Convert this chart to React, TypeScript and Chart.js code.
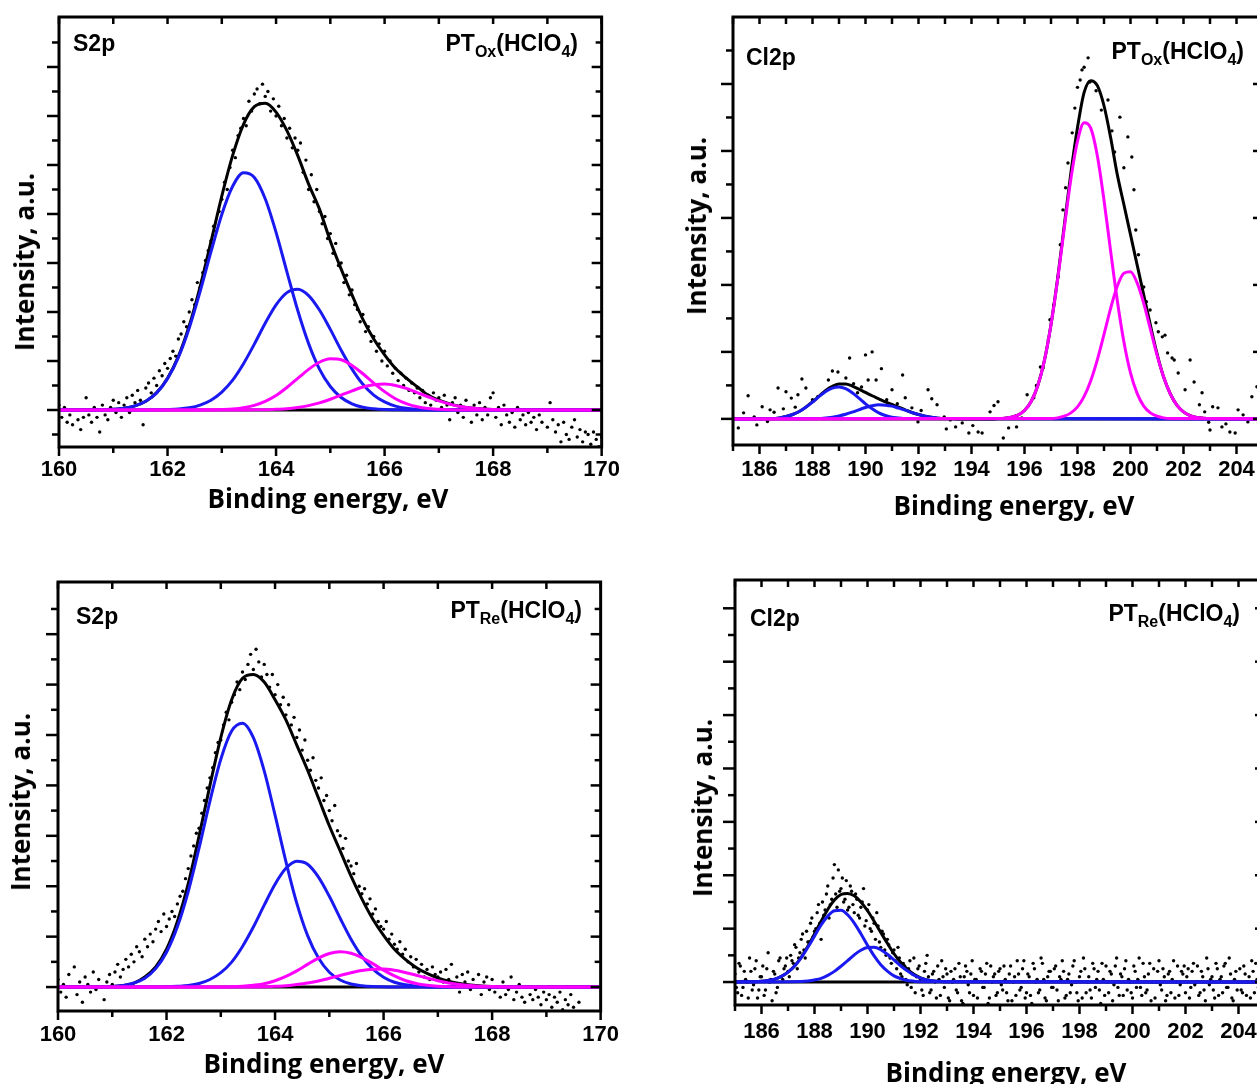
import React, { useEffect, useRef } from 'react';
import { Chart, registerables } from 'chart.js';

Chart.register(...registerables);

// ------------------------------------------------------------------ data
const S2P_RANGE = [160, 170];
const CL2P_RANGE = [185, 205];
const s2pTickLabels = [160, 162, 164, 166, 168, 170];
const clTickLabels = [186, 188, 190, 192, 194, 196, 198, 200, 202, 204];

const xTitle = 'Binding energy, eV';
const yTitle = 'Intensity, a.u.';
const coreLevels = ['S2p', 'Cl2p', 'S2p', 'Cl2p'];
const sampleSubs = ['Ox', 'Ox', 'Re', 'Re'];

// S2p, PT_Ox(HClO4) — measured points, 160.00 eV onward, 0.05 eV step
const s2pOxStart = 160;
const s2pOxStep = 0.05;
const s2pOxCounts = [
  0.2, -0.3, 0.1, -0.5, -0.2, -0.6, 0.0, -0.4, -0.8, -0.3, 0.5, -0.2, -0.5, 0.1, -0.3, -0.9, 0.2, -0.2, -0.4, 0.1,
  0.4, -0.1, 0.3, -0.3, 0.2, 0.5, -0.1, 0.6, 0.3, 0.8, 0.4, -0.6, 0.9, 1.1, 0.7, 1.3, 1.0, 1.6, 1.4, 1.9,
  1.7, 2.1, 2.4, 2.2, 2.9, 3.1, 3.6, 3.4, 4.0, 4.5, 4.3, 5.2, 5.0, 5.6, 6.1, 6.5, 6.9, 7.5, 7.3, 8.1,
  8.6, 9.3, 9.0, 9.9, 10.6, 10.3, 11.2, 11.5, 11.9, 11.6, 12.6, 12.2, 12.9, 13.1, 12.5, 13.3, 12.8, 13.0, 12.2, 12.7,
  12.0, 12.4, 11.6, 11.9, 11.1, 11.5, 10.7, 11.1, 10.6, 10.9, 9.7, 10.2, 9.0, 9.6, 8.5, 9.0, 8.1, 7.6, 7.9, 7.0,
  7.2, 6.4, 6.8, 5.9, 6.0, 5.2, 5.5, 4.7, 4.9, 4.3, 4.1, 3.6, 3.9, 3.2, 3.4, 2.8, 3.0, 2.4, 2.7, 2.0,
  2.4, 1.8, 2.0, 1.5, 1.7, 1.2, 1.5, 1.0, 1.3, 0.8, 1.1, 0.7, 0.9, 0.5, 0.8, 0.3, 0.6, 0.2, 0.7, 0.4,
  0.5, 0.1, 0.6, 0.2, -0.4, 0.3, 0.5, -0.1, 0.2, -0.3, 0.4, 0.0, -0.5, 0.2, -0.2, 0.3, -0.4, 0.1, -0.2, 0.5,
  0.7, -0.3, 0.1, -0.6, 0.2, -0.2, -0.5, -0.1, -0.7, 0.1, -0.4, -0.2, -0.6, -0.1, -0.5, -0.3, -0.8, -0.2, -0.5, 0.0,
  -0.7, 0.3, -0.4, -0.9, -0.6, -1.3, -0.5, -1.0, -1.2, -0.7, -0.4, -1.1, -0.8, -1.3, -0.9, -1.0, -1.4, -0.9, -1.2, -1.5,
  -1.1,
];

// S2p fits sampled from 160.0 eV in 0.2 eV steps
const s2pFitStart = 160;
const s2pFitStep = 0.2;
const s2pOxEnvelope = [
  0, 0, 0, 0, 0.01, 0.03, 0.07, 0.17, 0.36, 0.71,
  1.30, 2.19, 3.44, 5.03, 6.86, 8.73, 10.39, 11.66, 12.38, 12.52,
  12.16, 11.40, 10.38, 9.22, 8.2, 6.9, 5.75, 4.7, 3.7, 2.9,
  2.25, 1.7, 1.3, 0.95, 0.61, 0.40, 0.25, 0.14, 0.08, 0.04,
  0.02, 0.01, 0, 0, 0, 0, 0, 0, 0, 0, 0,
];
const s2pOxBlue1 = [
  0, 0, 0, 0, 0.01, 0.03, 0.07, 0.17, 0.36, 0.70,
  1.28, 2.15, 3.35, 4.83, 6.45, 7.98, 9.13, 9.68, 9.49, 8.62,
  7.25, 5.64, 4.06, 2.71, 1.67, 0.96, 0.51, 0.25, 0.11, 0.05,
  0.02, 0.01, 0, 0, 0, 0, 0, 0, 0, 0,
  0, 0, 0, 0, 0, 0, 0, 0, 0, 0, 0,
];
const s2pOxBlue2 = [
  0, 0, 0, 0, 0, 0, 0, 0, 0, 0.01,
  0.02, 0.04, 0.09, 0.20, 0.40, 0.73, 1.22, 1.89, 2.69, 3.54,
  4.29, 4.79, 4.93, 4.67, 4.08, 3.29, 2.44, 1.67, 1.05, 0.61,
  0.33, 0.16, 0.07, 0.03, 0.01, 0, 0, 0, 0, 0,
  0, 0, 0, 0, 0, 0, 0, 0, 0, 0, 0,
];
const s2pOxMagenta1 = [
  0, 0, 0, 0, 0, 0, 0, 0, 0, 0,
  0, 0, 0, 0, 0.01, 0.02, 0.04, 0.09, 0.19, 0.35,
  0.59, 0.92, 1.29, 1.66, 1.95, 2.09, 2.05, 1.82, 1.48, 1.10,
  0.75, 0.46, 0.26, 0.13, 0.06, 0.03, 0.01, 0, 0, 0,
  0, 0, 0, 0, 0, 0, 0, 0, 0, 0, 0,
];
const s2pOxMagenta2 = [
  0, 0, 0, 0, 0, 0, 0, 0, 0, 0,
  0, 0, 0, 0, 0, 0, 0, 0, 0.01, 0.01,
  0.03, 0.05, 0.10, 0.18, 0.29, 0.44, 0.61, 0.78, 0.94, 1.03,
  1.06, 1.00, 0.88, 0.71, 0.54, 0.37, 0.24, 0.14, 0.08, 0.04,
  0.02, 0.01, 0, 0, 0, 0, 0, 0, 0, 0, 0,
];

// S2p, PT_Re(HClO4) — measured points, 160.00 eV onward, 0.05 eV step
const s2pReStart = 160;
const s2pReStep = 0.05;
const s2pReCounts = [
  0.3, -0.2, 0.1, -0.4, 0.5, 0.0, 0.8, -0.3, 0.2, -0.6, 0.4, 0.1, -0.2, 0.6, -0.1, 0.3, 0.0, -0.5, 0.2, 0.5,
  0.1, 0.6, 0.9, 0.4, 0.7, 1.1, 0.8, 1.3, 1.0, 1.6, 1.4, 1.2, 1.9, 1.6, 2.1, 1.8, 2.3, 2.6, 2.2, 2.9,
  2.4, 2.7, 3.0, 2.8, 3.3, 3.6, 3.8, 4.3, 4.7, 5.2, 5.6, 6.1, 6.3, 6.9, 7.4, 7.9, 8.3, 8.7, 9.3, 9.7,
  9.8, 10.4, 10.9, 10.6, 11.3, 11.6, 12.1, 11.8, 12.5, 12.2, 12.8, 13.2, 12.6, 13.4, 12.9, 12.3, 12.8, 12.4, 11.9, 12.4,
  11.6, 12.0, 11.2, 11.5, 10.8, 11.2, 10.4, 10.7, 9.9, 10.2, 9.4, 9.8, 9.0, 8.6, 9.1, 8.2, 7.9, 8.3, 7.4, 7.6,
  7.0, 6.6, 7.2, 6.2, 6.0, 5.5, 5.9, 5.0, 4.8, 4.5, 4.9, 4.0, 3.7, 3.9, 3.3, 3.5, 2.9, 3.1, 2.6, 2.4,
  2.3, 2.6, 1.9, 2.1, 1.7, 1.5, 1.8, 1.3, 1.5, 1.0, 1.2, 0.8, 1.1, 0.6, 0.9, 0.4, 0.7, 0.3, 0.8, 0.5,
  0.4, 0.6, 0.2, 0.7, 0.3, 0.9, 0.1, 0.4, -0.2, 0.5, 0.2, 0.6, -0.1, 0.3, 0.0, 0.5, -0.3, 0.2, 0.4, -0.1,
  0.3, -0.2, 0.0, -0.4, 0.2, -0.3, -0.1, 0.4, -0.5, -0.2, 0.1, -0.4, -0.6, 0.0, -0.3, -0.5, -0.1, -0.4, -0.7, -0.2,
  -0.5, -0.3, -0.8, -0.4, -0.6, -0.2, -0.9, -0.5, -0.7, -0.3, -0.8, -1.0, -0.6,
];
const s2pReEnvelope = [
  0, 0, 0, 0, 0.01, 0.02, 0.06, 0.16, 0.4, 0.8,
  1.5, 2.6, 4.1, 6.0, 8.0, 9.9, 11.4, 12.25, 12.4, 12.1,
  11.4, 10.6, 9.6, 8.6, 7.5, 6.4, 5.4, 4.4, 3.5, 2.7,
  2.05, 1.5, 1.1, 0.78, 0.54, 0.36, 0.23, 0.14, 0.08, 0.04,
  0.02, 0.01, 0, 0, 0, 0, 0, 0, 0, 0, 0,
];
const s2pReBlue1 = [
  0, 0, 0, 0, 0.01, 0.02, 0.06, 0.16, 0.35, 0.73,
  1.38, 2.39, 3.79, 5.52, 7.38, 9.04, 10.16, 10.47, 9.90, 8.58,
  6.82, 4.98, 3.33, 2.04, 1.15, 0.59, 0.28, 0.12, 0.05, 0.02,
  0.01, 0, 0, 0, 0, 0, 0, 0, 0, 0,
  0, 0, 0, 0, 0, 0, 0, 0, 0, 0, 0,
];
const s2pReBlue2 = [
  0, 0, 0, 0, 0, 0, 0, 0, 0, 0,
  0.01, 0.03, 0.06, 0.14, 0.30, 0.57, 0.99, 1.61, 2.38, 3.25,
  4.08, 4.71, 4.99, 4.87, 4.36, 3.60, 2.73, 1.90, 1.22, 0.72,
  0.39, 0.19, 0.09, 0.04, 0.01, 0, 0, 0, 0, 0,
  0, 0, 0, 0, 0, 0, 0, 0, 0, 0, 0,
];
const s2pReMagenta1 = [
  0, 0, 0, 0, 0, 0, 0, 0, 0, 0,
  0, 0, 0, 0, 0, 0, 0.01, 0.03, 0.07, 0.13,
  0.25, 0.42, 0.64, 0.90, 1.15, 1.33, 1.40, 1.34, 1.17, 0.93,
  0.67, 0.44, 0.26, 0.14, 0.07, 0.03, 0.01, 0, 0, 0,
  0, 0, 0, 0, 0, 0, 0, 0, 0, 0, 0,
];
const s2pReMagenta2 = [
  0, 0, 0, 0, 0, 0, 0, 0, 0, 0,
  0, 0, 0, 0, 0, 0, 0, 0, 0, 0.01,
  0.03, 0.05, 0.10, 0.16, 0.24, 0.35, 0.46, 0.57, 0.66, 0.71,
  0.72, 0.67, 0.58, 0.47, 0.36, 0.25, 0.16, 0.10, 0.06, 0.03,
  0.02, 0.01, 0, 0, 0, 0, 0, 0, 0, 0, 0,
];

// Cl2p, PT_Ox(HClO4) — measured points [eV, intensity]
const clOxPoints = [
  [185.2, -0.27], [185.4, 0.18], [185.57, 0.69], [185.8, 0.06], [185.9, -0.18], [186.1, 0.36], [186.3, -0.08],
  [186.4, 0.27], [186.55, 0.2], [186.7, 0.92], [186.9, 0.3], [187.0, 0.81], [187.2, 0.62], [187.35, 0.35],
  [187.45, 0.72], [187.6, 1.19], [187.75, 0.92], [188.0, 0.57], [188.2, 0.66], [188.6, 1.16], [188.75, 1.43],
  [188.96, 1.4], [189.26, 1.22], [189.4, 1.82], [189.55, 1.05], [189.7, 0.78], [189.85, 0.95], [190.0, 1.91],
  [190.1, 1.16], [190.25, 2.0], [190.4, 1.16], [190.6, 1.5], [190.8, 0.57], [191.0, 0.87], [191.2, 0.45],
  [191.4, 1.31], [191.5, 0.63], [191.75, 0.33], [191.98, -0.09], [192.1, 0.25], [192.36, 0.87], [192.5, 0.6],
  [192.7, 0.42], [192.97, 0.06], [193.05, -0.3], [193.2, -0.03], [193.4, -0.24], [193.65, -0.12], [193.9, -0.42],
  [194.05, -0.2], [194.25, -0.39], [194.4, -0.42], [194.7, 0.21], [194.85, 0.4], [195.0, 0.51], [195.2, -0.57],
  [195.4, -0.27], [195.7, -0.24], [195.9, 0.03], [196.1, 0.72], [196.35, 0.63], [196.45, 1.0], [196.6, 1.55],
  [196.7, 1.52], [196.9, 2.36], [196.96, 2.96], [197.1, 3.4], [197.27, 4.24], [197.35, 5.2], [197.45, 6.24],
  [197.55, 6.9], [197.64, 7.64], [197.8, 8.54], [197.9, 9.28], [198.0, 9.9], [198.1, 10.12], [198.17, 10.42],
  [198.25, 10.5], [198.4, 10.78], [198.47, 10.06], [198.7, 9.8], [198.9, 9.22], [199.15, 9.52], [199.3, 8.6],
  [199.4, 7.97], [199.6, 9.01], [199.75, 7.5], [199.9, 8.42], [200.05, 7.82], [200.13, 6.84], [200.2, 5.64],
  [200.3, 4.9], [200.5, 3.94], [200.6, 3.5], [200.74, 3.25], [200.96, 2.87], [201.05, 2.6], [201.2, 2.45],
  [201.3, 2.5], [201.4, 1.97], [201.57, 1.82], [201.65, 1.76], [201.8, 1.37], [202.06, 0.87], [202.25, 1.76],
  [202.4, 1.1], [202.6, 0.42], [202.7, 0.78], [202.8, 0.21], [202.95, -0.1], [203.0, -0.33], [203.1, 0.36],
  [203.3, 0.33], [203.45, -0.24], [203.6, -0.15], [203.75, -0.39], [203.95, -0.42], [204.06, 0.27], [204.25, 0.12],
  [204.43, -0.09], [204.58, 0.66], [204.77, 0.96], [204.9, 0.5],
];

// Cl2p fits sampled in 0.25 eV steps
const clFitStep = 0.25;
const clOxEnvelopeStart = 186.5;
const clOxEnvelope = [
  0.01, 0.03, 0.07, 0.13, 0.22, 0.35, 0.51, 0.68, 0.85, 0.97,
  1.04, 1.04, 0.98, 0.89, 0.79, 0.69, 0.60, 0.51, 0.43, 0.35,
  0.27, 0.19, 0.13, 0.08, 0.05, 0.02, 0.01, 0.01,
  0, 0, 0, 0, 0, 0,
  0.01, 0.02, 0.05, 0.11, 0.25, 0.52, 0.99, 1.74, 2.82, 4.19,
  5.77, 7.34, 8.7, 9.75, 10.1, 9.95, 9.35, 8.4, 7.3, 6.4,
  5.5, 4.6, 3.7, 2.8, 1.95, 1.25, 0.75, 0.41, 0.21, 0.10,
  0.04, 0.02, 0.01,
];
const clOxBlue1Start = 186.5;
const clOxBlue1 = [0.01, 0.03, 0.07, 0.13, 0.22, 0.35, 0.50, 0.67, 0.82, 0.92, 0.95, 0.90, 0.78, 0.62, 0.45, 0.30, 0.18, 0.10, 0.05, 0.03, 0.01];
const clOxBlue2Start = 188.0;
const clOxBlue2 = [0.01, 0.01, 0.03, 0.05, 0.09, 0.14, 0.20, 0.27, 0.34, 0.39, 0.42, 0.41, 0.38, 0.32, 0.26, 0.19, 0.13, 0.08, 0.05, 0.02, 0.01, 0.01];
const clOxMagenta1Start = 195.0;
const clOxMagenta1 = [0.01, 0.02, 0.05, 0.11, 0.25, 0.52, 0.99, 1.74, 2.81, 4.16, 5.69, 7.16, 8.29, 8.84, 8.68, 7.85, 6.53, 5.01, 3.54, 2.30, 1.37, 0.76, 0.38, 0.18, 0.08, 0.03, 0.01];
const clOxMagenta2Start = 197.0;
const clOxMagenta2 = [0.01, 0.03, 0.08, 0.18, 0.36, 0.67, 1.14, 1.77, 2.52, 3.30, 3.96, 4.35, 4.39, 4.06, 3.45, 2.68, 1.91, 1.25, 0.75, 0.41, 0.21, 0.10, 0.04, 0.02, 0.01];

// Cl2p, PT_Re(HClO4) — measured points, two interleaved sweeps, 0.1 eV step each
const clReStart = 185;
const clReStartB = 185.05;
const clReStep = 0.1;
const clReCounts = [
  0.3, -0.4, 0.6, -0.2, 0.1, -0.6, 0.4, -0.1, 0.8, -0.3,
  0.2, -0.5, 0.5, 0.0, -0.7, 0.3, -0.2, 0.9, 0.1, 0.6,
  0.4, 1.0, 0.7, 1.3, 0.9, 1.6, 1.2, 1.9, 1.5, 2.4,
  1.9, 2.6, 2.2, 3.0, 2.7, 3.6, 2.9, 3.9, 3.3, 4.2,
  3.5, 3.0, 3.8, 2.8, 3.4, 2.6, 3.1, 2.4, 3.0, 2.1,
  2.7, 2.0, 2.4, 1.6, 2.1, 1.3, 1.8, 1.0, 1.4, 0.7,
  1.2, 0.5, 0.9, 0.2, 0.6, -0.1, 0.8, 0.3, -0.4, 0.5,
  0.1, -0.5, 0.7, 0.2, -0.3, 0.4, -0.6, 0.1, 0.8, -0.2,
  0.3, -0.7, 0.0, 0.5, -0.4, 0.2, -0.8, 0.6, -0.1, 0.3,
  -0.5, 0.1, -0.9, 0.4, -0.2, 0.7, -0.6, 0.0, 0.3, -0.4,
  0.5, -0.3, 0.1, -0.7, 0.6, 0.0, -0.5, 0.3, -0.2, 0.8,
  -0.4, 0.2, -0.8, 0.5, 0.1, -0.3, 0.7, -0.6, 0.2, 0.4,
  -0.2, 0.6, -0.7, 0.1, 0.4, -0.5, 0.3, -0.1, 0.8, -0.4,
  0.2, -0.6, 0.5, 0.0, -0.3, 0.7, -0.2, 0.4, -0.8, 0.1,
  0.6, -0.4, 0.3, -0.1, 0.9, -0.5, 0.2, 0.5, -0.3, 0.0,
  -0.6, 0.4, 0.1, -0.2, 0.7, -0.4, 0.3, -0.7, 0.5, 0.0,
  0.8, -0.3, 0.2, -0.5, 0.4, 0.1, -0.6, 0.6, -0.1, 0.3,
  -0.4, 0.5, -0.2, 0.7, 0.0, -0.5, 0.4, -0.3, 0.9, -0.1,
  0.2, -0.6, 0.5, 0.1, -0.4, 0.7, -0.2, 0.3, -0.7, 0.4,
  0.0, -0.3, 0.6, -0.5, 0.2, 0.8, -0.4, 0.1, -0.2, 0.5,
  0.3,
];
const clReCountsB = [
  -0.2, 0.7, -0.5, 0.4, 0.0, 0.9, -0.3, 0.5, -0.6, 0.2,
  0.6, -0.3, 1.1, 0.1, 0.4, -0.4, 0.8, 0.2, 0.5, 0.9,
  0.2, 0.8, 1.4, 0.5, 1.1, 1.8, 0.9, 1.5, 2.2, 1.7,
  2.0, 2.9, 1.6, 2.5, 3.3, 2.4, 3.1, 4.4, 2.8, 3.4,
  3.9, 3.1, 2.7, 3.6, 2.9, 3.3, 2.5, 2.8, 3.5, 2.3,
  2.9, 1.9, 2.2, 2.6, 1.5, 1.9, 1.2, 1.6, 0.9, 1.1,
  0.8, 1.3, 0.3, 0.7, 0.1, 0.5, -0.2, 0.9, 0.2, 0.6,
  -0.3, 0.4, 1.0, -0.4, 0.3, 0.0, 0.6, -0.5, 0.2, 0.5,
  -0.6, 0.4, 0.1, -0.3, 0.7, -0.7, 0.2, 0.4, -0.4, 0.8,
  0.1, -0.6, 0.5, -0.2, 0.3, -0.8, 0.6, 0.2, -0.5, 0.4,
  -0.1, 0.6, -0.4, 0.3, -0.7, 0.2, 0.8, -0.3, 0.5, -0.6,
  0.3, -0.5, 0.7, 0.0, -0.4, 0.9, 0.1, -0.7, 0.4, -0.2,
  0.5, -0.3, 0.2, 0.8, -0.6, 0.1, -0.4, 0.6, 0.0, -0.7,
  0.4, 0.9, -0.4, 0.2, -0.6, 0.5, 0.1, -0.3, 0.7, -0.5,
  0.0, 0.4, -0.7, 0.6, -0.2, 0.3, -0.5, 0.8, 0.1, -0.4,
  0.6, -0.2, 0.9, -0.5, 0.2, -0.3, 0.7, 0.0, -0.6, 0.4,
  -0.1, 0.5, -0.7, 0.3, -0.4, 0.8, 0.0, -0.5, 0.4, 0.6,
  0.2, -0.6, 0.4, -0.1, 0.6, -0.4, 0.2, -0.7, 0.5, 0.1,
  -0.3, 0.7, -0.5, 0.2, 0.6, -0.2, 0.9, -0.6, 0.1, -0.3,
  0.5, -0.4, 0.3, 0.0, -0.6, 0.4, 0.7, -0.2, 0.3, -0.5,
];
const clReEnvelopeStart = 186.0;
const clReEnvelope = [0.03, 0.06, 0.11, 0.21, 0.37, 0.60, 0.93, 1.34, 1.80, 2.28, 2.72, 3.07, 3.28, 3.32, 3.23, 3.00, 2.67, 2.28, 1.86, 1.45, 1.06, 0.74, 0.48, 0.29, 0.16, 0.08, 0.04, 0.02, 0.01];
const clReBlue1Start = 186.0;
const clReBlue1 = [0.03, 0.06, 0.11, 0.21, 0.37, 0.60, 0.91, 1.30, 1.72, 2.14, 2.47, 2.67, 2.69, 2.52, 2.21, 1.81, 1.38, 0.98, 0.65, 0.41, 0.23, 0.13, 0.06, 0.03, 0.01];
const clReBlue2Start = 187.5;
const clReBlue2 = [0.02, 0.04, 0.08, 0.14, 0.25, 0.40, 0.59, 0.80, 1.02, 1.19, 1.29, 1.30, 1.21, 1.04, 0.83, 0.61, 0.42, 0.26, 0.15, 0.08, 0.04, 0.02, 0.01];

// y-axis ranges (arbitrary units, 1 unit = one minor tick)
const yRanges = [[-1.51, 16.04], [-0.78, 12.0], [-0.95, 16.07], [-0.86, 15.06]];

// ------------------------------------------------------------------ helpers
type Pt = { x: number; y: number };

function onGrid(start: number, step: number, ys: number[]): Pt[] {
  return ys.map((y, i) => ({ x: Math.round((start + i * step) * 1000) / 1000, y }));
}
function curve(start: number, step: number, ys: number[], range: number[]): Pt[] {
  const pts = onGrid(start, step, ys);
  if (pts[0].x > range[0]) pts.unshift({ x: range[0], y: 0 });
  if (pts[pts.length - 1].x < range[1]) pts.push({ x: range[1], y: 0 });
  return pts;
}
function pairs(list: number[][]): Pt[] {
  return list.map(([x, y]) => ({ x, y }));
}
function flat(range: number[]): Pt[] {
  return [{ x: range[0], y: 0 }, { x: range[1], y: 0 }];
}

const BLUE = '#1a1af0';
const MAGENTA = '#ff00ff';
const BLACK = '#000000';
const TICK_FONT = '"Liberation Sans", Arial, sans-serif';
const TITLE_FONT = '"Open Sans", "Liberation Sans", sans-serif';

const framePlugin = {
  id: 'xpsFrame',
  afterDraw(chart: any) {
    const { ctx, chartArea: a } = chart;
    const xs = chart.scales.x;
    const ys = chart.scales.y;
    ctx.save();
    ctx.strokeStyle = '#000';
    ctx.lineWidth = 2.5;
    const seg = (x1: number, y1: number, x2: number, y2: number) => {
      ctx.beginPath();
      ctx.moveTo(x1, y1);
      ctx.lineTo(x2, y2);
      ctx.stroke();
    };
    for (let v = Math.ceil(xs.min); v <= Math.floor(xs.max); v++) {
      const px = xs.getPixelForValue(v);
      const major = v % 2 === 0;
      seg(px, a.bottom, px, a.bottom + (major ? 9 : 6));
      seg(px, a.top, px, a.top + 7);
    }
    for (let v = Math.ceil(ys.min); v <= Math.floor(ys.max); v++) {
      const py = ys.getPixelForValue(v);
      if (py > a.bottom - 3 || py < a.top + 3) continue;
      const major = v % 2 === 0;
      seg(a.left, py, a.left - (major ? 12 : 7), py);
      seg(a.right, py, a.right - (major ? 10 : 6), py);
    }
    ctx.lineWidth = 3;
    ctx.strokeRect(a.left, a.top, a.right - a.left, a.bottom - a.top);
    ctx.restore();
  },
};

interface PanelProps {
  box: { left: number; top: number; width: number; height: number };
  axis: { yWidth: number; xHeight: number; padTop: number; padRight: number; tickPad: number };
  xRange: number[];
  xTicks: number[];
  yRange: number[];
  scatter: Pt[];
  envelope: Pt[];
  background: Pt[];
  blues: Pt[][];
  magentas: Pt[][];
}

function Panel(p: PanelProps) {
  const ref = useRef<HTMLCanvasElement>(null);
  useEffect(() => {
    if (!ref.current) return;
    const line = (data: Pt[], color: string) => ({
      type: 'line',
      data,
      showLine: true,
      borderColor: color,
      borderWidth: 3,
      pointRadius: 0,
      fill: false,
      cubicInterpolationMode: 'monotone',
    });
    const datasets: any[] = [
      ...p.magentas.map((d) => line(d, MAGENTA)),
      ...p.blues.map((d) => line(d, BLUE)),
      line(p.envelope, BLACK),
      line(p.background, BLACK),
      {
        type: 'scatter',
        data: p.scatter,
        pointRadius: 1.7,
        pointBackgroundColor: '#000',
        pointBorderWidth: 0,
        showLine: false,
      },
    ];
    const chart = new Chart(ref.current, {
      type: 'scatter',
      data: { datasets },
      options: {
        animation: false,
        responsive: false,
        maintainAspectRatio: false,
        events: [],
        layout: { padding: { top: p.axis.padTop, right: p.axis.padRight, left: 0, bottom: 0 } },
        plugins: { legend: { display: false }, tooltip: { enabled: false } },
        scales: {
          x: {
            type: 'linear',
            min: p.xRange[0],
            max: p.xRange[1],
            afterBuildTicks: (s: any) => {
              s.ticks = p.xTicks.map((v) => ({ value: v }));
            },
            afterFit: (s: any) => {
              s.height = p.axis.xHeight;
            },
            grid: { display: false, drawTicks: false },
            border: { display: false },
            ticks: {
              autoSkip: false,
              maxRotation: 0,
              padding: p.axis.tickPad,
              color: '#000',
              font: { family: TICK_FONT, size: 22, weight: 'bold' },
            },
          },
          y: {
            type: 'linear',
            min: p.yRange[0],
            max: p.yRange[1],
            afterFit: (s: any) => {
              s.width = p.axis.yWidth;
            },
            grid: { display: false, drawTicks: false },
            border: { display: false },
            ticks: { display: false },
          },
        },
      } as any,
      plugins: [framePlugin],
    } as any);
    return () => chart.destroy();
  }, []);
  return (
    <canvas
      ref={ref}
      width={p.box.width}
      height={p.box.height}
      style={{ position: 'absolute', left: p.box.left, top: p.box.top, width: p.box.width, height: p.box.height }}
    />
  );
}

const subStyle: React.CSSProperties = { fontSize: 16, position: 'relative', top: 6 };
const tagStyle: React.CSSProperties = {
  position: 'absolute',
  font: `bold 23px ${TICK_FONT}`,
  lineHeight: '23px',
  whiteSpace: 'nowrap',
  color: '#000',
};

function XTitle({ cx, cy }: { cx: number; cy: number }) {
  return (
    <div
      style={{
        position: 'absolute',
        left: cx,
        top: cy,
        transform: 'translate(-50%, -50%)',
        font: `bold 26px ${TITLE_FONT}`,
        lineHeight: '26px',
        whiteSpace: 'nowrap',
        color: '#000',
      }}
    >
      {xTitle}
    </div>
  );
}
function YTitle({ cx, cy }: { cx: number; cy: number }) {
  return (
    <div
      style={{
        position: 'absolute',
        left: cx,
        top: cy,
        transform: 'translate(-50%, -50%) rotate(-90deg)',
        font: `bold 26px ${TITLE_FONT}`,
        lineHeight: '26px',
        whiteSpace: 'nowrap',
        color: '#000',
      }}
    >
      {yTitle}
    </div>
  );
}
function Sample({ top, rightEdge, sub }: { top: number; rightEdge: number; sub: string }) {
  return (
    <div style={{ ...tagStyle, top, right: 1257 - rightEdge }}>
      PT<span style={subStyle}>{sub}</span>(HClO<span style={subStyle}>4</span>)
    </div>
  );
}

export default function App() {
  const panels: PanelProps[] = [
    {
      box: { left: 0, top: 0, width: 630, height: 530 },
      axis: { yWidth: 59, xHeight: 83, padTop: 17, padRight: 28, tickPad: 10 },
      xRange: S2P_RANGE,
      xTicks: s2pTickLabels,
      yRange: yRanges[0],
      scatter: onGrid(s2pOxStart, s2pOxStep, s2pOxCounts),
      envelope: curve(s2pFitStart, s2pFitStep, s2pOxEnvelope, S2P_RANGE),
      background: flat(S2P_RANGE),
      blues: [curve(s2pFitStart, s2pFitStep, s2pOxBlue1, S2P_RANGE), curve(s2pFitStart, s2pFitStep, s2pOxBlue2, S2P_RANGE)],
      magentas: [curve(s2pFitStart, s2pFitStep, s2pOxMagenta1, S2P_RANGE), curve(s2pFitStart, s2pFitStep, s2pOxMagenta2, S2P_RANGE)],
    },
    {
      box: { left: 670, top: 0, width: 610, height: 530 },
      axis: { yWidth: 63, xHeight: 85, padTop: 17, padRight: 17, tickPad: 12 },
      xRange: CL2P_RANGE,
      xTicks: clTickLabels,
      yRange: yRanges[1],
      scatter: pairs(clOxPoints),
      envelope: curve(clOxEnvelopeStart, clFitStep, clOxEnvelope, CL2P_RANGE),
      background: flat(CL2P_RANGE),
      blues: [curve(clOxBlue1Start, clFitStep, clOxBlue1, CL2P_RANGE), curve(clOxBlue2Start, clFitStep, clOxBlue2, CL2P_RANGE)],
      magentas: [curve(clOxMagenta1Start, clFitStep, clOxMagenta1, CL2P_RANGE), curve(clOxMagenta2Start, clFitStep, clOxMagenta2, CL2P_RANGE)],
    },
    {
      box: { left: 0, top: 560, width: 630, height: 524 },
      axis: { yWidth: 58, xHeight: 73, padTop: 22, padRight: 28, tickPad: 11 },
      xRange: S2P_RANGE,
      xTicks: s2pTickLabels,
      yRange: yRanges[2],
      scatter: onGrid(s2pReStart, s2pReStep, s2pReCounts),
      envelope: curve(s2pFitStart, s2pFitStep, s2pReEnvelope, S2P_RANGE),
      background: flat(S2P_RANGE),
      blues: [curve(s2pFitStart, s2pFitStep, s2pReBlue1, S2P_RANGE), curve(s2pFitStart, s2pFitStep, s2pReBlue2, S2P_RANGE)],
      magentas: [curve(s2pFitStart, s2pFitStep, s2pReMagenta1, S2P_RANGE), curve(s2pFitStart, s2pFitStep, s2pReMagenta2, S2P_RANGE)],
    },
    {
      box: { left: 670, top: 560, width: 610, height: 524 },
      axis: { yWidth: 65, xHeight: 79, padTop: 20, padRight: 15, tickPad: 14 },
      xRange: CL2P_RANGE,
      xTicks: clTickLabels,
      yRange: yRanges[3],
      scatter: [...onGrid(clReStart, clReStep, clReCounts), ...onGrid(clReStartB, clReStep, clReCountsB)],
      envelope: curve(clReEnvelopeStart, clFitStep, clReEnvelope, CL2P_RANGE),
      background: flat(CL2P_RANGE),
      blues: [curve(clReBlue1Start, clFitStep, clReBlue1, CL2P_RANGE), curve(clReBlue2Start, clFitStep, clReBlue2, CL2P_RANGE)],
      magentas: [],
    },
  ];

  return (
    <div
      style={{
        position: 'absolute',
        left: 0,
        top: 0,
        width: 1257,
        height: 1084,
        overflow: 'hidden',
        background: '#fff',
      }}
    >
      {panels.map((p, i) => (
        <Panel key={i} {...p} />
      ))}

      <XTitle cx={328} cy={498} />
      <YTitle cx={24} cy={262} />
      <XTitle cx={1014} cy={505} />
      <YTitle cx={696} cy={226} />
      <XTitle cx={324} cy={1063} />
      <YTitle cx={20} cy={802} />
      <XTitle cx={1006} cy={1072} />
      <YTitle cx={702} cy={808} />

      <div style={{ ...tagStyle, left: 73, top: 32 }}>{coreLevels[0]}</div>
      <Sample top={32} rightEdge={578} sub={sampleSubs[0]} />
      <div style={{ ...tagStyle, left: 746, top: 46 }}>{coreLevels[1]}</div>
      <Sample top={40} rightEdge={1244} sub={sampleSubs[1]} />
      <div style={{ ...tagStyle, left: 76, top: 605 }}>{coreLevels[2]}</div>
      <Sample top={599} rightEdge={582} sub={sampleSubs[2]} />
      <div style={{ ...tagStyle, left: 750, top: 607 }}>{coreLevels[3]}</div>
      <Sample top={602} rightEdge={1240} sub={sampleSubs[3]} />
    </div>
  );
}
